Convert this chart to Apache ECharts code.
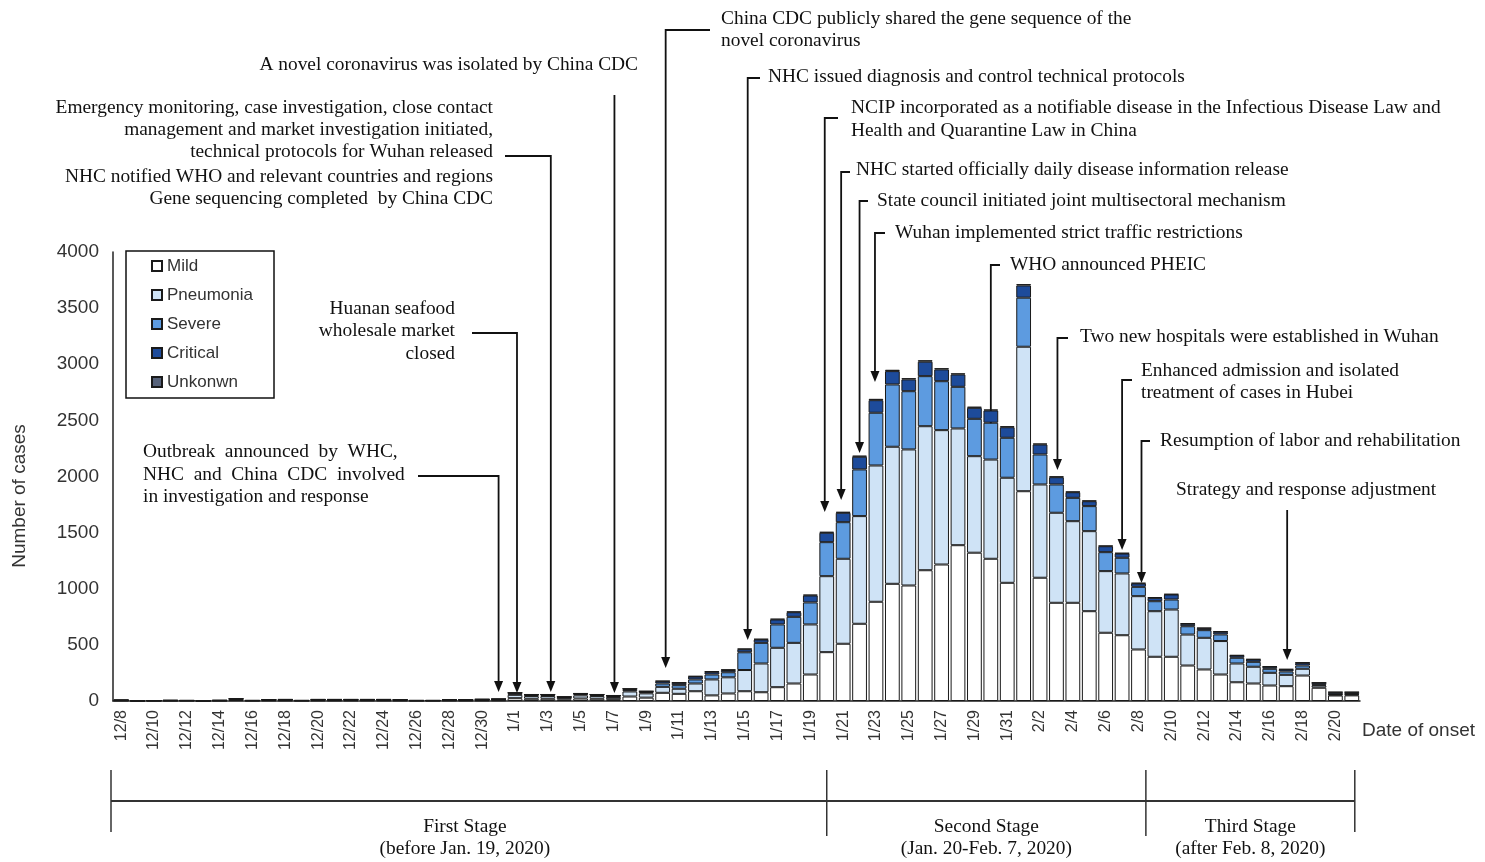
<!DOCTYPE html>
<html><head><meta charset="utf-8">
<script src="https://cdn.jsdelivr.net/npm/echarts@6/dist/echarts.min.js"></script>
<style>html,body{margin:0;padding:0;background:#fff}#c{width:1485px;height:862px}</style>
</head><body><div id="c"></div>
<script>
// ---- data ----
const categories = ['12/8','12/9','12/10','12/11','12/12','12/13','12/14','12/15','12/16','12/17','12/18','12/19','12/20','12/21','12/22','12/23','12/24','12/25','12/26','12/27','12/28','12/29','12/30','12/31',
 '1/1','1/2','1/3','1/4','1/5','1/6','1/7','1/8','1/9','1/10','1/11','1/12','1/13','1/14','1/15','1/16','1/17','1/18','1/19','1/20','1/21','1/22','1/23','1/24','1/25','1/26','1/27','1/28','1/29','1/30','1/31',
 '2/1','2/2','2/3','2/4','2/5','2/6','2/7','2/8','2/9','2/10','2/11','2/12','2/13','2/14','2/15','2/16','2/17','2/18','2/19','2/20','2/21'];
const mild = [3,1,2,2,2,1,2,7,2,5,5,2,5,5,5,5,5,4,2,2,4,4,5,6,
 25,20,20,12,22,20,16,40,30,73,64,87,50,67,87,78,123,156,236,435,510,688,884,1044,1029,1165,1216,1388,1321,1267,1053,
 1869,1098,875,875,800,608,586,459,394,394,316,281,236,167,156,138,132,227,118,49,50];
const pneumonia = [3,1,1,2,2,1,2,8,2,5,6,2,6,6,6,6,6,5,2,2,4,5,6,7,
 30,24,24,16,28,24,20,45,38,53,45,69,142,144,189,256,351,362,446,677,757,959,1214,1221,1212,1283,1197,1040,860,884,936,
 1287,831,802,727,713,549,550,475,406,421,276,282,298,167,149,113,101,60,20,8,8];
const severe = [1,1,1,1,1,1,1,3,1,2,2,1,2,2,2,2,2,2,1,1,2,2,3,3,
 12,10,10,6,12,10,9,14,12,30,32,36,44,45,158,184,208,232,196,303,326,416,470,555,519,446,436,371,333,328,356,
 437,267,252,208,223,169,140,83,89,89,74,68,59,51,44,36,30,29,6,4,4];
const critical = [1,0,0,1,0,0,1,2,0,1,1,0,1,1,1,1,1,1,0,0,1,1,1,1,
 6,4,4,3,5,4,4,10,7,20,21,26,24,20,27,30,44,41,62,84,84,113,112,119,105,129,105,110,98,109,94,
 109,89,65,50,44,53,38,30,30,45,22,17,24,20,21,18,18,24,18,17,16];
const unknown = [0,0,0,0,0,0,0,0,0,0,0,0,0,0,0,0,0,0,0,0,0,0,0,0,
 0,0,0,0,0,0,0,0,0,3,3,4,4,4,5,5,6,6,7,8,8,10,12,12,11,13,11,10,10,9,9,
 12,9,7,6,6,5,5,5,5,4,4,4,3,3,3,3,3,3,2,2,2];
const yTicks = {min:0, max:4000, step:500};

// ---- annotations (text layout in page pixels, arrow target in data space) ----
const annotations = [
 {cat:'1/10', dx:3, end:294, lines:['China CDC publicly shared the gene sequence of the','novel coronavirus'], tx:721, ty:[19,41], align:'left', hy:30, hx:710},
 {cat:'1/7', dx:1, end:71, lines:['A novel coronavirus was isolated by China CDC'], tx:638, ty:[65], align:'right', sy:95},
 {cat:'1/3', dx:3, end:80, lines:['Emergency monitoring, case investigation, close contact','management and market investigation initiated,','technical protocols for Wuhan released'], tx:493, ty:[108,130,152], align:'right', hy:156, hx:505},
 {lines:['NHC notified WHO and relevant countries and regions','Gene sequencing completed  by China CDC'], tx:493, ty:[177,199], align:'right'},
 {cat:'1/1', dx:2, end:71, lines:['Huanan seafood','wholesale market','closed'], tx:455, ty:[309,331,354], align:'right', hy:333, hx:472},
 {cat:'12/31', dx:0, end:80, lines:['Outbreak  announced  by  WHC,','NHC  and  China  CDC  involved','in investigation and response'], tx:143, ty:[452,475,497], align:'left', hy:476, hx:418},
 {cat:'1/15', dx:3, end:543, lines:['NHC issued diagnosis and control technical protocols'], tx:768, ty:[77], align:'left', hy:78, hx:760},
 {cat:'1/20', dx:-2, end:1684, lines:['NCIP incorporated as a notifiable disease in the Infectious Disease Law and','Health and Quarantine Law in China'], tx:851, ty:[108,131], align:'left', hy:118, hx:838},
 {cat:'1/21', dx:-2, end:1791, lines:['NHC started officially daily disease information release'], tx:856, ty:[170], align:'left', hy:172, hx:850},
 {cat:'1/22', dx:0, end:2210, lines:['State council initiated joint multisectoral mechanism'], tx:877, ty:[201], align:'left', hy:201, hx:868},
 {cat:'1/23', dx:-1, end:2842, lines:['Wuhan implemented strict traffic restrictions'], tx:895, ty:[233], align:'left', hy:233, hx:885},
 {cat:'1/30', dx:0, end:2459, lines:['WHO announced PHEIC'], tx:1010, ty:[265], align:'left', hy:265, hx:1000},
 {cat:'2/3', dx:1, end:2058, lines:['Two new hospitals were established in Wuhan'], tx:1080, ty:[337], align:'left', hy:338, hx:1068},
 {cat:'2/7', dx:0, end:1345, lines:['Enhanced admission and isolated','treatment of cases in Hubei'], tx:1141, ty:[371,393], align:'left', hy:380, hx:1132},
 {cat:'2/8', dx:3, end:1051, lines:['Resumption of labor and rehabilitation'], tx:1160, ty:[441], align:'left', hy:441, hx:1150},
 {cat:'2/17', dx:1, end:365, lines:['Strategy and response adjustment'], tx:1176, ty:[490], align:'left', sy:510}
];
const stages = [
 {name:'First Stage', sub:'(before Jan. 19, 2020)'},
 {name:'Second Stage', sub:'(Jan. 20-Feb. 7, 2020)'},
 {name:'Third Stage', sub:'(after Feb. 8, 2020)'}
];

const SERIF = '"Liberation Serif","Times New Roman",serif';
const SANS = '"Liberation Sans",Arial,sans-serif';
const chart = echarts.init(document.getElementById('c'));

function mk(name, data, color){
 return {name, type:'bar', stack:'cases', data, barCategoryGap:'10%',
  itemStyle:{color, borderColor:'#1a1a1a', borderWidth:1}, emphasis:{disabled:true}};
}

chart.setOption({
 animation:false,
 grid:{left:113, right:125, top:252, bottom:161},
 legend:{orient:'vertical', left:126, top:251, itemWidth:10, itemHeight:10, itemGap:11,
  padding:[6,21,7,25], borderColor:'#111', borderWidth:1.5, icon:'rect', selectedMode:false,
  textStyle:{fontSize:17, fontFamily:SANS, color:'#333', lineHeight:18},
  data:['Mild','Pneumonia','Severe','Critical','Unkonwn']},
 xAxis:{type:'category', data:categories,
  axisLine:{lineStyle:{color:'#222', width:1.5}},
  axisTick:{interval:1, length:5, lineStyle:{color:'#222', width:1.2}},
  axisLabel:{interval:1, rotate:90, fontSize:16, fontFamily:SANS, color:'#333', margin:9}},
 yAxis:{type:'value', min:yTicks.min, max:yTicks.max, interval:yTicks.step,
  axisLine:{show:true, lineStyle:{color:'#222', width:1.5}}, axisTick:{show:false},
  splitLine:{show:false}, axisLabel:{fontSize:19, fontFamily:SANS, color:'#333', margin:14, formatter:v => String(v)}},
 series:[mk('Mild', mild, '#ffffff'), mk('Pneumonia', pneumonia, '#cfe3f6'), mk('Severe', severe, '#5d9be0'),
  mk('Critical', critical, '#1d4b9b'), mk('Unkonwn', unknown, '#56627a')]
});

// ---- annotation graphics positioned through the axes ----
const P = (i, v) => chart.convertToPixel({gridIndex:0}, [i, v]);
const g = [];
const FONT = '19.4px ' + SERIF;
const stroke = {stroke:'#111', lineWidth:1.8, fill:null};
annotations.forEach(a => {
 a.lines.forEach((t, k) => g.push({type:'text', x:a.tx, y:a.ty[k], style:{text:t, font:FONT, fill:'#111', align:a.align, verticalAlign:'middle'}}));
 if (!a.cat) return;
 const idx = categories.indexOf(a.cat);
 const p = P(idx, a.end);
 const ax = p[0] + a.dx, ey = p[1];
 const pts = a.hy !== undefined ? [[a.hx, a.hy],[ax, a.hy],[ax, ey-9]] : [[ax, a.sy],[ax, ey-9]];
 g.push({type:'polyline', shape:{points:pts}, style:stroke});
 g.push({type:'polygon', shape:{points:[[ax-4.5, ey-11],[ax+4.5, ey-11],[ax, ey]]}, style:{fill:'#111'}});
});
// stage bracket
const band = P(1,0)[0] - P(0,0)[0];
const xs = [P(0,0)[0] - band/2 - 2, P(categories.indexOf('1/20'),0)[0], P(categories.indexOf('2/8'),0)[0] + band*0.45, P(categories.length-1,0)[0] + 3];
g.push({type:'line', shape:{x1:xs[0], y1:801, x2:xs[3], y2:801}, style:{stroke:'#333', lineWidth:2}});
xs.forEach((x, k) => g.push({type:'line', shape:{x1:x, y1:770, x2:x, y2:(k===0||k===3)?832:836}, style:{stroke:'#333', lineWidth:1.5}}));
stages.forEach((s, k) => {
 const cx = (xs[k] + xs[k+1]) / 2 + (k===0 ? -4 : 0);
 g.push({type:'text', x:cx, y:827, style:{text:s.name, font:FONT, fill:'#111', align:'center', verticalAlign:'middle'}});
 g.push({type:'text', x:cx, y:849, style:{text:s.sub, font:FONT, fill:'#111', align:'center', verticalAlign:'middle'}});
});
g.push({type:'text', x:1362, y:731, style:{text:'Date of onset', font:'19px '+SANS, fill:'#333', align:'left', verticalAlign:'middle'}});
g.push({type:'text', x:20, y:496, rotation:Math.PI/2, style:{text:'Number of cases', font:'19px '+SANS, fill:'#333', align:'center', verticalAlign:'middle'}});
chart.setOption({graphic:g});
</script></body></html>
